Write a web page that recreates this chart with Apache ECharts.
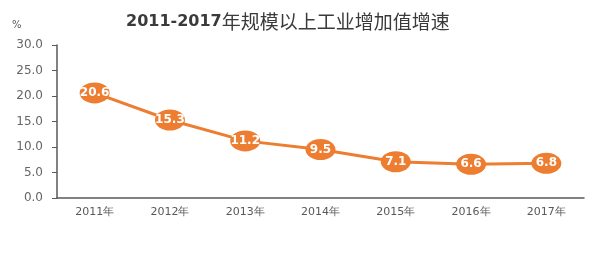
<!DOCTYPE html>
<html><head><meta charset="utf-8">
<script src="https://cdn.jsdelivr.net/npm/echarts@6/dist/echarts.min.js"></script>
<style>html,body{margin:0;padding:0;background:#fff}#c{width:604px;height:258px}</style>
</head><body><div id="c"></div>
<script>
var categories = ['2011年','2012年','2013年','2014年','2015年','2016年','2017年'];
var values = [20.6, 15.3, 11.2, 9.5, 7.1, 6.6, 6.8];
var yTicks = [0, 5, 10, 15, 20, 25, 30];
var titleYears = '2011-2017';
var titleRest = '年规模以上工业增加值增速';
var unitText = '%';

var chart = echarts.init(document.getElementById('c'));
chart.setOption({
  animation: false,
  backgroundColor: '#fff',
  title: {
    text: '{a|' + titleYears + '}{b|' + titleRest + '}', left: 121, top: 7,
    textStyle: {
      rich: {
        a: {fontFamily: 'DejaVu Sans', fontSize: 16, fontWeight: 'bold', color: '#3a3a3a'},
        b: {fontFamily: 'Noto Sans CJK SC', fontSize: 19, fontWeight: 'normal', color: '#3a3a3a'}
      }
    }
  },
  graphic: [{type: 'text', left: 12, top: 20, style: {text: unitText, fontSize: 10, fill: '#595959', fontFamily: 'DejaVu Sans'}}],
  grid: {left: 57, right: 20, top: 45, bottom: 60},
  xAxis: {
    type: 'category', data: categories, boundaryGap: true,
    axisLine: {lineStyle: {color: '#595959', width: 1.5}},
    axisTick: {show: false},
    axisLabel: {color: '#595959', fontSize: 11, fontFamily: 'DejaVu Sans', margin: 9}
  },
  yAxis: {
    type: 'value', min: yTicks[0], max: yTicks[yTicks.length - 1], interval: 5,
    axisLine: {show: true, lineStyle: {color: '#595959', width: 1.5}},
    axisTick: {show: true, inside: false, length: 5, lineStyle: {color: '#595959'}},
    splitLine: {show: false},
    axisLabel: {color: '#666', fontSize: 12, fontFamily: 'DejaVu Sans', margin: 14,
      formatter: function (v) { return v.toFixed(1); }}
  },
  series: [{
    type: 'line', data: values,
    lineStyle: {color: '#ED7D31', width: 3},
    itemStyle: {color: '#ED7D31'},
    symbol: 'circle', symbolSize: [30, 21],
    label: {show: true, position: 'inside', color: '#fff', fontWeight: 'bold', fontSize: 12,
      fontFamily: 'DejaVu Sans', formatter: function (p) { return p.value.toFixed(1); }}
  }]
});
</script></body></html>
